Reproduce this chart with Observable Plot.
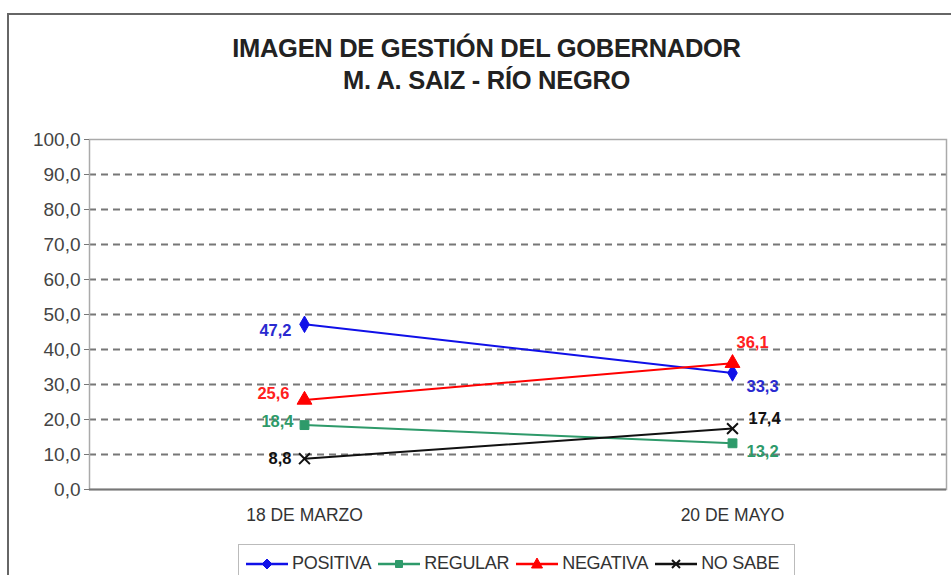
<!DOCTYPE html>
<html>
<head>
<meta charset="utf-8">
<script src="https://cdn.jsdelivr.net/npm/d3@7"></script>
<script src="https://cdn.jsdelivr.net/npm/@observablehq/plot@0.6"></script>
<style>
  html, body { margin: 0; padding: 0; background: #fff; }
  #wrap { position: relative; width: 951px; height: 575px; overflow: hidden; font-family: "Liberation Sans", Arial, sans-serif; }
  #border { position: absolute; left: 7px; top: 13px; width: 1000px; height: 700px; border: 2px solid #666; box-sizing: border-box; }
  #title { position: absolute; left: 0; width: 973px; top: 32px; text-align: center; font-weight: bold; font-size: 25.5px; line-height: 32px; color: #222; letter-spacing: -0.3px; }
  #chart { position: absolute; left: 0; top: 0; }
  #legend { position: absolute; left: 238px; top: 544px; width: 557px; height: 60px; border: 1px solid #bbb; box-sizing: border-box; display: flex; align-items: flex-start; padding-top: 8px; padding-left: 6px; font-size: 18px; color: #333; letter-spacing: -0.3px; }
  .item { display: flex; align-items: center; margin-right: 6px; }
  .item svg { margin-right: 3px; }
</style>
</head>
<body>
<div id="wrap">
  <div id="border"></div>
  <div id="title">IMAGEN DE GESTIÓN DEL GOBERNADOR<br>M. A. SAIZ - RÍO NEGRO</div>
  <div id="chart"></div>
  <div id="legend"></div>
</div>
<script>
// ---- data ----
const categories = ["18 DE MARZO", "20 DE MAYO"];
const seriesNames = ["POSITIVA", "REGULAR", "NEGATIVA", "NO SABE"];
const positiva = [47.2, 33.3];
const regular = [18.4, 13.2];
const negativa = [25.6, 36.1];
const noSabe = [8.8, 17.4];
const yTicks = [0, 10, 20, 30, 40, 50, 60, 70, 80, 90, 100];

// ---- styles ----
const colors = ["#1010e8", "#2e9a6a", "#ff0000", "#111111"];
const labelColors = ["#2a2ad0", "#2e9a6a", "#ff2020", "#111111"];
const symbols = ["diamond", "square", "triangle", "times"];
// label placement per series: [first point, second point] as [anchor, dx, dy]
const labelPlace = {
  "POSITIVA": [["end", -13, 6], ["start", 14, 14]],
  "REGULAR": [["end", -11, -3], ["start", 14, 8]],
  "NEGATIVA": [["end", -15, -6], ["start", 4, -20]],
  "NO SABE": [["end", -13, 0], ["start", 16, -10]]
};

const allValues = [positiva, regular, negativa, noSabe];
const rows = [];
seriesNames.forEach((s, si) => {
  categories.forEach((c, ci) => {
    rows.push({series: s, cat: c, value: allValues[si][ci], ci, si});
  });
});
const fmt = v => v.toFixed(1).replace(".", ",");

const colorScale = {domain: seriesNames, range: colors};
const textMarks = [];
for (const idx of [0, 1]) {
  seriesNames.forEach((s, si) => {
    const p = labelPlace[s][idx];
    textMarks.push(Plot.text(rows.filter(r => r.series === s && r.ci === idx), {
      x: "cat", y: "value", text: d => fmt(d.value),
      textAnchor: p[0], dx: p[1], dy: p[2],
      fill: labelColors[si], fontWeight: "bold", fontSize: 16.5
    }));
  });
}

const chart = Plot.plot({
  width: 951,
  height: 575,
  marginLeft: 89,
  marginRight: 5,
  marginTop: 139,
  marginBottom: 86,
  style: {background: "transparent", fontFamily: "'Liberation Sans', Arial, sans-serif", color: "#333"},
  x: {type: "band", domain: categories, padding: 0, label: null},
  y: {domain: [0, 100], ticks: yTicks, label: null},
  color: colorScale,
  marks: [
    Plot.ruleY(yTicks.filter(t => t > 0 && t < 100), {stroke: "#777", strokeWidth: 2, strokeDasharray: "7,5"}),
    Plot.frame({stroke: "#aaa", strokeWidth: 1.5}),
    Plot.ruleY([0], {stroke: "#777", strokeWidth: 2}),
    Plot.axisY({ticks: yTicks, tickFormat: fmt, tickSize: 5, tickPadding: 4, fontSize: 19, stroke: "#777", fill: "#444"}),
    Plot.axisX({tickSize: 0, tickPadding: 19, fontSize: 17.5, fill: "#333"}),
    Plot.line(rows, {x: "cat", y: "value", z: "series", stroke: "series", strokeWidth: 2}),
    ...seriesNames.map((s, si) => Plot.dot(rows.filter(r => r.series === s), {
      x: "cat", y: "value", symbol: () => symbols[si],
      r: si === 2 ? 5.5 : 5,
      fill: si === 3 ? "none" : colors[si],
      stroke: colors[si], strokeWidth: si === 3 ? 2 : 1
    })),
    ...textMarks
  ]
});
document.getElementById("chart").appendChild(chart);

// ---- legend ----
const legend = document.getElementById("legend");
const symbolPaths = {
  diamond: "M0,-5L5,0L0,5L-5,0Z",
  square: "M-3.5,-3.5H3.5V3.5H-3.5Z",
  triangle: "M0,-6L5.5,4H-5.5Z",
  times: "M-4,-4L4,4M4,-4L-4,4"
};
seriesNames.forEach((s, i) => {
  const item = document.createElement("div");
  item.className = "item";
  const sym = symbols[i];
  item.innerHTML = `<svg width="44" height="16" viewBox="-22 -8 44 16">
    <line x1="-21" x2="21" y1="0" y2="0" stroke="${colors[i]}" stroke-width="2.5"/>
    <path d="${symbolPaths[sym]}" fill="${sym === "times" ? "none" : colors[i]}" stroke="${colors[i]}" stroke-width="${sym === "times" ? 2 : 1}"/>
  </svg><span>${s}</span>`;
  legend.appendChild(item);
});
</script>
</body>
</html>
